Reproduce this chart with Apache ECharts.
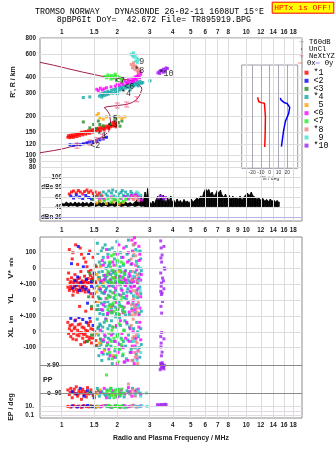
<!DOCTYPE html>
<html><head><meta charset="utf-8">
<script src="https://cdn.jsdelivr.net/npm/echarts@6/dist/echarts.min.js"></script>
<style>html,body{margin:0;padding:0;background:#fff}#c{width:335px;height:451px}</style>
</head><body><div id="c"></div><script>
// Frequency axis (MHz, log) and tick sets
const F_MIN = 0.763, F_MAX = 20.05;
const freqTicks = [1, 1.5, 2, 3, 4, 5, 6, 7, 8, 10, 12, 14, 16, 18];
const freqTicksMid = [1, 1.5, 2, 3, 4, 5, 6, 7, 8, 9, 10, 12, 14, 16, 18];
const heightTicks = [80, 90, 100, 120, 150, 200, 300, 400, 600, 800];
const dbTicks = [20, 40, 60, 80, 100];
const tiltTicks = [-20, -10, 0, 10, 20];

// Echo traces
const traceNames = ['*1', '<2', '<3', '*4', ' 5', '<6', '<7', '*8', ' 9', '*10'];
const traceColors = ['#ff0000', '#0000ff', '#228b22', '#10a8a8', '#ffa500', '#ff00ff', '#22ee22', '#f08080', '#40e0d0', '#a020f0'];

// Virtual height R' (km) per trace: [f MHz, km]
const heightPts = [
 [[1.08,137],[1.09,141],[1.11,136],[1.12,142],[1.13,138],[1.15,143],[1.16,137],[1.18,140],[1.19,145],[1.21,139],[1.22,144],[1.24,147],[1.25,141],[1.27,146],[1.28,150],[1.30,143],[1.31,148],[1.33,151],[1.35,145],[1.36,152],[1.38,148],[1.40,154],[1.42,147],[1.44,153],[1.46,156],[1.48,150],[1.50,157],[1.52,153],[1.54,159],[1.56,155],[1.58,161],[1.60,157],[1.63,163],[1.66,159],[1.69,165],[1.72,161],[1.75,167],[1.78,163],[1.81,169],[1.84,165],[1.87,171],[1.90,167],[1.93,174],[1.96,170],[1.99,177],[1.62,152],[1.70,156],[1.80,160],[1.91,179],[1.97,165]],
 [[1.11,120],[1.16,119],[1.21,121],[1.26,120],[1.31,122],[1.37,124],[1.42,126],[1.48,125],[1.55,128],[1.61,131],[1.68,133],[1.75,137]],
 [[1.31,180],[1.42,162],[1.49,172],[1.53,160],[1.58,183],[1.61,172],[1.68,168],[1.83,172],[1.95,192],[2.03,178],[2.07,167],[2.12,183]],
 [[1.60,285],[1.63,296],[1.65,280],[1.68,300],[1.70,288],[1.72,306],[1.75,292],[1.78,311],[1.80,296],[1.83,304],[1.86,316],[1.89,300],[1.92,321],[1.95,308],[1.98,326],[2.01,312],[2.04,331],[2.07,318],[2.10,336],[2.14,322],[2.18,341],[2.22,328],[2.26,346],[2.30,333],[2.34,351],[2.38,338],[2.42,356],[2.46,342],[2.50,361],[2.54,348],[2.58,366],[2.62,352],[2.66,371],[2.70,358],[2.75,363],[1.31,278],[1.42,281],[3.01,374],[2.35,318],[2.00,298],[1.66,291],[1.77,300],[2.12,330],[2.44,349],[2.60,342]],
 [[1.55,202],[1.58,209],[1.61,194],[1.68,189],[1.75,197],[2.03,197],[2.12,192],[2.20,197]],
 [[1.55,322],[1.58,314],[1.62,328],[1.66,318],[1.70,325],[1.75,331],[1.85,336],[1.95,341],[2.00,352],[2.05,346],[2.10,361],[2.15,351],[2.20,371],[2.25,359],[2.30,381],[2.35,366],[2.40,391],[2.45,373],[2.50,401],[2.55,381],[2.60,411],[2.64,396],[2.68,421],[2.62,431],[2.56,406],[2.48,386],[2.42,369],[2.28,363],[2.66,441],[2.52,392]],
 [[1.72,405],[1.75,395],[1.78,415],[1.82,401],[1.86,411],[1.90,393],[1.95,421],[2.00,405],[2.05,398],[2.10,386],[1.85,386],[1.98,376],[2.12,371],[1.93,408]],
 [[2.38,500],[2.42,471],[2.46,490],[2.50,456],[2.55,476],[2.58,446],[2.62,461],[2.45,516],[2.60,431],[2.52,485]],
 [[2.38,601],[2.42,586],[2.46,571],[2.50,591],[2.55,561],[2.60,546],[2.45,616],[2.52,531],[2.57,520]],
 [[3.32,431],[3.38,441],[3.44,451],[3.50,446],[3.56,461],[3.62,456],[3.68,471],[3.74,466],[3.40,426],[3.55,436],[3.62,440]]
];

// Echo amplitude (dB) per trace
const dbPts = [
 [[1.10,66],[1.13,70],[1.16,72],[1.20,68],[1.23,73],[1.26,70],[1.30,66],[1.33,71],[1.37,74],[1.40,69],[1.44,72],[1.48,67],[1.52,70],[1.56,64],[1.60,68],[1.65,62]],
 [[1.12,62],[1.16,58],[1.20,64],[1.25,60],[1.30,57],[1.35,63],[1.40,59],[1.45,56],[1.50,61]],
 [[1.48,55],[1.55,60],[1.60,52]],
 [[1.62,64],[1.68,70],[1.74,66],[1.80,72],[1.86,68],[1.92,62],[1.98,71],[2.04,66],[2.10,69],[2.16,63],[2.22,70],[2.28,65],[2.34,60],[2.40,67],[2.46,62],[2.52,66],[2.60,58],[2.68,63],[1.65,58],[1.77,62],[1.89,74],[2.01,60],[2.13,73],[2.25,61],[2.37,71]],
 [[1.55,48],[1.62,52],[1.75,47],[1.90,50],[2.05,46],[2.15,49]],
 [[1.60,58],[1.70,55],[1.85,60],[1.95,54],[2.10,57],[2.20,61],[2.30,56],[2.38,63],[2.45,59],[2.55,66],[2.62,60],[2.70,54],[2.50,64],[2.58,62]],
 [[1.70,52],[1.78,56],[1.85,50],[1.92,55],[2.00,53],[2.08,58],[2.15,51],[2.22,55],[1.88,58],[2.04,50]],
 [[2.40,58],[2.45,55],[2.50,61],[2.55,57],[2.60,53]],
 [[2.55,70],[2.60,68],[2.65,64]],
 [[3.35,58],[3.42,62],[3.50,60],[3.58,56],[3.65,59]]
];

// Doppler velocity V* (m/s)
const velPts = [
 [[1.10,120],[1.14,60],[1.18,-40],[1.12,-85],[1.08,-70],[1.16,-92],[1.20,-78],[1.22,25],[1.25,-60],[1.28,90],[1.30,-88],[1.33,-50],[1.35,40],[1.38,-95],[1.40,-20],[1.42,110],[1.45,-70],[1.48,70],[1.50,-40],[1.52,-85],[1.54,10],[1.26,130],[1.36,-75],[1.44,-10],[1.24,-95],[1.32,65],[1.47,-60],[1.19,150],
  [1.09,-30],[1.11,-95],[1.13,-60],[1.15,100],[1.17,-75],[1.21,-88],[1.23,-65],[1.27,-20],[1.29,-80],[1.31,-96],[1.34,-85],[1.37,10],[1.39,-65],[1.41,-90],[1.43,-45],[1.46,-90],[1.49,-75],[1.53,-95]],
 [[1.13,30],[1.18,-80],[1.22,-55],[1.27,-90],[1.31,10],[1.36,-70],[1.40,95],[1.45,-85],[1.50,-30],[1.23,140]],
 [[1.42,-30],[1.48,-80],[1.52,20],[1.60,-60],[1.65,-95]],
 [[1.56,160],[1.58,-60],[1.60,40],[1.62,-90],[1.64,110],[1.66,-20],[1.68,70],[1.70,-80],[1.72,150],[1.74,0],[1.76,-50],[1.78,90],[1.80,-95],[1.82,30],[1.85,-70],[1.88,130],[1.90,-30],[1.93,60],[1.96,-85],[1.99,170],[2.02,-10],[2.05,-60],[2.08,100],[2.12,-90],[2.16,20],[2.20,-40],[2.24,140],[2.28,-75],[2.32,50],[2.36,-20],[2.40,-95],[2.44,80],[2.48,-55],[2.52,120],[2.56,-80],[2.60,10],[2.64,-35],[2.68,60],[2.30,180],[2.10,-25],
  [1.57,95],[1.59,-25],[1.61,-75],[1.63,20],[1.65,-95],[1.67,130],[1.69,-45],[1.71,35],[1.73,-65],[1.77,-85],[1.79,15],[1.81,120],[1.84,-40],[1.87,-15],[1.91,-60],[1.94,100],[1.97,-45],[2.00,40],[2.04,-85],[2.07,10],[2.11,70],[2.14,-55],[2.18,-85],[2.22,-15],[2.26,90],[2.30,-55],[2.34,-90],[2.38,25],[2.42,-70],[2.46,150],[2.50,-25],[2.54,45],[2.58,-95],[2.62,-60],[2.66,110],[2.70,-15]],
 [[1.55,-40],[1.58,-70],[1.62,10],[1.68,-90],[1.90,-60],[2.05,-20]],
 [[1.66,50],[1.70,-70],[1.75,120],[1.80,-30],[1.86,-90],[1.92,20],[1.98,-60],[2.04,150],[2.10,-80],[2.15,70],[2.20,-20],[2.25,-95],[2.30,100],[2.35,-50],[2.40,30],[2.45,-85],[2.50,160],[2.55,-10],[2.60,-70],[2.65,90],[2.70,-40],[2.48,195],[2.62,140],[1.95,-95],[2.18,-65],
  [1.64,-80],[1.68,20],[1.72,-45],[1.78,70],[1.83,-75],[1.89,40],[1.94,-20],[2.00,90],[2.06,-50],[2.12,-95],[2.17,130],[2.22,-75],[2.27,40],[2.32,-35],[2.37,-80],[2.42,110],[2.47,-60],[2.52,20],[2.57,-90],[2.63,50],[2.68,-75],[2.40,180]],
 [[1.76,-40],[1.80,-80],[1.84,10],[1.88,-60],[1.92,-95],[1.96,-30],[2.00,50],[2.04,-75],[2.08,-10],[2.12,-90],[2.16,30],[1.86,80],
  [1.78,-20],[1.82,40],[1.86,-90],[1.90,-10],[1.94,-70],[1.98,20],[2.02,-50],[2.06,-90],[2.10,40],[2.14,-60],[2.18,-30],[1.92,90]],
 [[2.38,60],[2.42,-20],[2.46,100],[2.50,-60],[2.54,20],[2.58,-85],[2.44,150],[2.56,-40],[2.40,-75],[2.52,80]],
 [[2.45,-50],[2.55,30],[2.62,-80],[2.68,0],[2.58,110]],
 [[3.44,175],[3.58,140],[3.46,130],[3.50,85],[3.45,66],[3.48,40],[3.60,2],[3.44,-30],[3.52,-62],[3.47,-94],[3.56,-80],[3.62,-5]]
];

// Echolocation YL (km)
const ylPts = [
 [[1.08,80],[1.10,60],[1.12,88],[1.14,70],[1.16,55],[1.18,82],[1.20,66],[1.22,48],[1.24,90],[1.26,72],[1.28,58],[1.30,85],[1.32,64],[1.34,50],[1.36,78],[1.40,62],[1.44,40],[1.48,20],[1.52,-10],[1.25,-40],[1.35,-70],[1.45,-55],[1.15,30],[1.50,75],[1.11,72],[1.17,90],[1.23,62],[1.29,76],[1.33,92]],
 [[1.15,75],[1.20,92],[1.25,60],[1.30,80],[1.35,68],[1.40,50],[1.45,85],[1.50,40],[1.38,-20]],
 [[1.40,20],[1.45,-40],[1.55,-60],[1.60,10]],
 [[1.56,90],[1.58,20],[1.60,-60],[1.62,60],[1.64,-20],[1.66,95],[1.68,-90],[1.70,40],[1.72,-40],[1.75,75],[1.78,-10],[1.80,-75],[1.83,55],[1.86,-50],[1.90,85],[1.94,0],[1.98,-85],[2.02,35],[2.06,-30],[2.10,70],[2.14,-65],[2.18,15],[2.22,-95],[2.26,50],[2.30,-15],[2.35,90],[2.40,-55],[2.45,25],[2.50,-80],[2.55,60],[2.60,-30],[2.65,80],[2.70,-70],[2.20,95],[1.95,-45],
  [1.57,-35],[1.59,70],[1.61,-85],[1.63,5],[1.65,45],[1.67,-65],[1.69,85],[1.71,-15],[1.73,60],[1.77,-95],[1.79,30],[1.82,-30],[1.85,90],[1.88,-80],[1.92,15],[1.96,60],[2.00,-60],[2.04,-10],[2.08,95],[2.12,-40],[2.16,40],[2.20,-75],[2.24,5],[2.28,70],[2.33,-90],[2.38,45],[2.43,-25],[2.48,90],[2.53,-50],[2.58,15],[2.63,-85],[2.68,40]],
 [[1.55,50],[1.58,-10],[1.60,80],[1.85,-40]],
 [[1.62,70],[1.68,-30],[1.74,10],[1.80,88],[1.86,-70],[1.92,45],[1.98,-15],[2.05,-90],[2.12,60],[2.18,-45],[2.25,25],[2.32,-75],[2.38,80],[2.44,-5],[2.50,-60],[2.56,40],[2.62,-95],[2.68,20],[2.00,95],
  [1.65,-60],[1.71,50],[1.77,-85],[1.83,20],[1.89,-35],[1.95,75],[2.02,-55],[2.08,30],[2.15,-80],[2.22,90],[2.28,-20],[2.35,55],[2.41,-65],[2.47,85],[2.53,-30],[2.59,70],[2.65,-50]],
 [[1.76,10],[1.80,-40],[1.85,-80],[1.90,-20],[1.95,30],[2.00,-60],[2.05,-95],[2.10,0],[2.15,-50],[1.88,45],
  [1.78,-60],[1.82,20],[1.87,-30],[1.92,-70],[1.97,0],[2.02,-85],[2.07,-40],[2.12,20],[2.17,-75]],
 [[2.38,-30],[2.42,-70],[2.46,10],[2.50,-90],[2.54,-50],[2.58,30],[2.44,60],[2.40,-95],[2.48,-40],[2.52,50],[2.56,-75],[2.60,-15]],
 [[2.50,20],[2.60,-40],[2.66,60]],
 [[3.46,86],[3.58,70],[3.44,54],[3.50,44],[3.47,34],[3.52,-9],[3.45,-40],[3.48,-82]]
];

// Echolocation XL (km)
const xlPts = [
 [[1.08,60],[1.10,20],[1.12,-30],[1.14,45],[1.16,-10],[1.18,30],[1.20,-50],[1.22,10],[1.24,-25],[1.26,50],[1.28,-5],[1.30,-40],[1.32,25],[1.34,-15],[1.36,-60],[1.38,5],[1.40,40],[1.42,-35],[1.45,-70],[1.48,15],[1.50,-20],[1.53,-55],[1.19,75],[1.27,-80],[1.43,65],
  [1.09,-10],[1.11,40],[1.13,5],[1.15,-45],[1.17,20],[1.21,-20],[1.23,45],[1.25,-5],[1.29,30],[1.31,-15],[1.33,-65],[1.35,10],[1.37,-30],[1.39,55],[1.41,-50],[1.44,20],[1.47,-40],[1.51,0],[1.55,-85]],
 [[1.12,85],[1.18,70],[1.24,90],[1.30,78],[1.36,60],[1.42,88],[1.48,40]],
 [[1.38,-60],[1.45,-20],[1.52,-90],[1.58,30],[1.62,-45]],
 [[1.56,80],[1.58,-20],[1.60,-100],[1.62,40],[1.64,-60],[1.66,0],[1.68,-140],[1.70,60],[1.72,-30],[1.75,-90],[1.78,20],[1.80,-170],[1.83,-50],[1.86,70],[1.90,-10],[1.94,-120],[1.98,30],[2.02,-70],[2.06,90],[2.10,-40],[2.14,-150],[2.18,10],[2.22,-90],[2.26,50],[2.30,-20],[2.35,-130],[2.40,-60],[2.45,20],[2.50,-100],[2.55,60],[2.60,-30],[2.65,-160],[2.70,-80],[2.20,-190],[1.96,95],
  [1.57,20],[1.59,-150],[1.61,50],[1.63,-80],[1.65,-180],[1.67,30],[1.69,-60],[1.71,-110],[1.73,80],[1.77,-140],[1.79,-40],[1.82,40],[1.85,-90],[1.88,-200],[1.92,-60],[1.96,-160],[2.00,-20],[2.04,-110],[2.08,40],[2.12,-90],[2.16,-60],[2.20,70],[2.24,-170],[2.28,-50],[2.33,30],[2.38,-110],[2.43,-180],[2.48,-40],[2.53,-140],[2.58,0],[2.63,-100],[2.68,20]],
 [[1.55,-10],[1.60,-70],[1.70,-120],[1.90,-150]],
 [[1.62,10],[1.68,-50],[1.74,80],[1.80,-110],[1.86,-20],[1.92,-160],[1.98,40],[2.05,-80],[2.12,-10],[2.18,-190],[2.25,60],[2.32,-60],[2.38,-130],[2.44,0],[2.50,-90],[2.56,-170],[2.62,30],[2.68,-50],[2.00,-200],
  [1.65,-130],[1.71,-20],[1.77,-70],[1.83,-150],[1.89,30],[1.95,-60],[2.02,-130],[2.08,70],[2.15,-100],[2.22,-40],[2.28,-180],[2.35,20],[2.41,-90],[2.47,-200],[2.53,-40],[2.59,-120],[2.65,60]],
 [[1.75,70],[1.80,-10],[1.85,-60],[1.90,30],[1.95,-100],[2.00,-30],[2.05,50],[2.10,-80],[2.15,-140],[1.88,-170],[2.02,-190],
  [1.78,-80],[1.82,-130],[1.87,10],[1.92,-40],[1.97,-150],[2.02,-10],[2.07,-110],[2.12,-50],[2.17,10]],
 [[2.38,40],[2.42,-40],[2.46,-100],[2.50,-160],[2.54,-20],[2.58,-200],[2.44,80],[2.56,-70],[2.48,-130],[2.40,-180],[2.46,-30],[2.52,-60],[2.60,-120],[2.55,-150]],
 [[2.45,-60],[2.52,-100],[2.60,-20],[2.68,-130],[2.56,-180]],
 [[3.48,-4],[3.44,-30],[3.58,-44],[3.46,-71],[3.50,-128],[3.47,-151],[3.45,-95]]
];

// Polarization PP (deg)
const ppPts = [
 [[1.08,-70],[1.10,-100],[1.12,-60],[1.14,-120],[1.16,-85],[1.18,-95],[1.20,-50],[1.22,-110],[1.24,-75],[1.26,-90],[1.28,-130],[1.30,-65],[1.32,-100],[1.34,-80],[1.36,-115],[1.38,-55],[1.40,-95],[1.44,-70],[1.48,-105],[1.52,-85],[1.11,-85],[1.17,-65],[1.23,-95],[1.29,-80],[1.35,-95]],
 [[1.14,-80],[1.20,-95],[1.26,-60],[1.32,-110],[1.38,-75],[1.44,-90],[1.50,-120]],
 [[1.42,-85],[1.50,-105],[1.58,-75]],
 [[1.56,-60],[1.60,-110],[1.65,-80],[1.70,-95],[1.76,-70],[1.82,-120],[1.88,-85],[1.95,-100],[2.02,-65],[2.10,-90],[2.18,-115],[2.26,-75],[2.34,-95],[2.42,-60],[2.50,-105],[2.58,-80],[2.66,-90],[1.62,-90],[1.73,-105],[1.85,-60],[2.06,-110],[2.30,-85],[2.54,-70]],
 [[1.55,-95],[1.62,-70],[1.90,-100]],
 [[1.62,-85],[1.70,-60],[1.80,-100],[1.90,-75],[2.00,-115],[2.10,-70],[2.20,-95],[2.30,-55],[2.40,-110],[2.50,-80],[2.60,-65],[2.68,-100],[1.75,-120],[2.05,-90],[2.35,-80]],
 [[1.76,-80],[1.80,-100],[1.84,-60],[1.88,-90],[1.92,-120],[1.96,-70],[2.00,-95],[2.04,-85],[2.08,-105],[2.12,-65],[2.16,-90],[1.82,-75],[1.98,-110],[1.75,26],[1.86,-105],[1.94,-85],[2.02,-70],[2.10,-95]],
 [[2.38,-90],[2.44,-70],[2.50,-110],[2.56,-85],[2.30,-32]],
 [[2.50,-95],[2.60,-75],[2.68,-110],[2.88,-90]],
 [[3.44,100],[3.48,85],[3.52,95],[3.56,75],[3.46,70],[3.60,88],[3.42,60],[3.50,105],[3.54,80],[3.47,92],[3.58,65]]
];

// EP (deg, log)
const epPts = [
 [[1.08,12],[1.12,8],[1.16,18],[1.20,10],[1.24,14],[1.28,7],[1.32,20],[1.36,11],[1.40,9],[1.44,16],[1.48,12],[1.52,8]],
 [[1.14,15],[1.22,9],[1.30,13],[1.38,19],[1.46,10]],
 [[1.44,13],[1.54,9]],
 [[1.56,14],[1.62,9],[1.70,18],[1.78,11],[1.86,7],[1.95,15],[2.05,10],[2.15,20],[2.25,8],[2.35,13],[2.45,17],[2.55,9],[2.65,12]],
 [[1.56,11],[1.66,16]],
 [[1.64,12],[1.74,20],[1.84,9],[1.96,14],[2.08,7],[2.20,16],[2.32,10],[2.44,22],[2.56,11],[2.68,15]],
 [[1.76,10],[1.82,16],[1.88,8],[1.94,13],[2.00,19],[2.06,9],[2.12,14],[2.18,6],[1.79,22],[1.97,11]],
 [[2.38,12],[2.46,18],[2.54,9]],
 [[2.50,14],[2.62,10],[2.72,17],[2.90,12]],
 [[3.30,30],[3.38,26],[3.46,34],[3.54,28],[3.62,38],[3.68,32]]
];

// Trace label anchors [f, km]
const traceLabelAt = [[1.65,140],[1.52,117],[1.89,172],[2.23,298],[1.89,190],[2.32,338],[2.07,374],[2.63,447],[2.63,529],[3.68,422]];

// Electron density profile (plasma frequency vs true height)
const profile = [[0.763,104],[0.9,108],[1.0,111],[1.1,115],[1.257,120],[1.4,126],[1.52,131],[1.616,135.5],[1.72,143],[1.8,152],[1.829,157],[1.84,180],[1.82,205],[1.76,222],[1.70,232],[1.76,236],[1.907,239],[2.1,243],[2.253,246],[2.42,255],[2.553,269],[2.65,290],[2.72,322],[2.70,335],[2.66,342],[2.55,358],[2.446,374],[2.1,388],[1.8,398],[1.616,409],[1.3,437],[1.065,467],[0.9,495],[0.763,520]];
const neXtYZ = [[1.21,118],[1.42,125],[1.55,130],[1.66,138],[2.0,241],[2.25,246],[2.55,270]];

// Noise level T60dB: [f MHz, floor dB, peak dB]
const t60 = [[1.00,43,48],[1.03,42,46],[1.06,43,50],[1.09,41,47],[1.12,43,49],[1.15,42,46],[1.18,43,50],[1.21,41,47],[1.24,42,49],[1.27,43,46],[1.30,41,50],[1.33,42,47],[1.37,43,49],[1.40,41,46],[1.44,42,50],[1.48,43,47],[1.52,41,48],[1.56,42,46],[1.60,43,50],[1.64,41,47],[1.68,42,49],[1.73,43,46],[1.78,41,50],[1.83,42,47],[1.88,43,49],[1.93,41,46],[1.98,42,50],[2.04,43,47],[2.10,41,49],[2.16,42,46],[2.22,43,50],[2.28,41,47],[2.35,42,49],[2.42,43,46],[2.49,41,50],[2.56,42,54],[2.63,43,48],[2.70,41,62],[2.76,42,50],[2.83,40,70],[2.88,41,60],[2.92,40,77],[2.96,41,55],
 [3.00,40,50],[3.06,41,46],[3.12,40,52],[3.18,41,47],[3.25,40,55],[3.31,41,62],[3.37,40,56],[3.43,41,66],[3.49,40,58],[3.55,41,64],[3.61,40,55],[3.68,41,50],[3.75,40,58],[3.82,41,52],[3.90,40,62],[3.97,41,50],[4.05,40,54],[4.13,41,48],[4.22,40,56],[4.31,41,50],[4.40,40,53],[4.50,41,48],[4.60,40,55],[4.70,41,50],[4.80,40,52],[4.92,41,48],[5.04,40,56],[5.16,41,50],[5.28,40,54],[5.40,41,58],[5.52,40,55],[5.65,41,62],[5.78,40,60],[5.90,41,70],[6.02,40,77],[6.14,41,72],[6.27,40,75],[6.40,41,66],[6.54,40,70],[6.68,41,62],[6.82,40,66],[6.96,41,73],[7.10,40,68],[7.25,41,74],[7.40,40,64],[7.55,41,60],[7.72,40,66],[7.90,41,58],[8.08,40,63],[8.26,41,56],[8.45,40,62],[8.65,41,57],[8.85,40,60],[9.05,41,55],[9.26,40,62],[9.48,41,54],[9.70,40,60],[9.92,41,64],[10.15,40,68],[10.4,41,63],[10.65,40,70],[10.9,41,62],[11.15,40,60],[11.4,41,56],[11.7,40,58],[12.0,41,54],[12.3,40,57],[12.6,41,52],[12.9,40,55],[13.2,41,51],[13.5,40,56],[13.8,41,52],[14.1,40,54],[14.4,41,50],[14.7,40,53],[15.0,41,50],[15.1,41,50]];

// Echo tilt (deg) vs height (km)
const tiltX = [[-13.7,282],[-13.2,272],[-12.6,262],[-10,257],[-6,254],[-4.9,251],[-4.9,200],[-5.1,160],[-5.4,130],[-5.7,116]];
const tiltY = [[12.2,280],[12.8,270],[13.4,261],[17,256],[19.9,253],[22.9,236],[21.7,212],[17.9,183],[16,157],[14.9,139],[13.4,117]];

const SANS = 'Liberation Sans';
const MONO = 'Liberation Mono';
const GRID_C = '#dcdcdc';
const FRAME_C = '#8a8a8a';
const tickLabel = {fontFamily: SANS, fontWeight: 'bold', fontSize: 6.3, color: '#222', hideOverlap: false};

const W = 262, L = 40;
const grids = [
  {left: L, top: 38, width: W, height: 137},          // 0 height
  {left: L, top: 175, width: W, height: 46},          // 1 dB
  {left: 241.7, top: 65, width: 56, height: 103.3, show: true, backgroundColor: '#fff', borderColor: '#9a9aa8', borderWidth: 1, z: 5}, // 2 tilt
  {left: L, top: 237, width: W, height: 47},          // 3 V*
  {left: L, top: 284, width: W, height: 32},          // 4 YL
  {left: L, top: 316, width: W, height: 49},          // 5 XL
  {left: L, top: 358, width: W, height: 43},          // 6 PP
  {left: L, top: 401, width: W, height: 17},          // 7 EP
  {left: L, top: 38, width: W, height: 183, show: true, borderColor: FRAME_C, borderWidth: 1, backgroundColor: 'transparent'}, // 8 upper frame
  {left: L, top: 237, width: W, height: 181, show: true, borderColor: FRAME_C, borderWidth: 1, backgroundColor: 'transparent'}  // 9 lower frame
].map(g => Object.assign({outerBoundsMode: 'none', containLabel: false}, g));

function fAxis(gi, extra) {
  return Object.assign({type: 'log', logBase: 10, min: F_MIN, max: F_MAX, gridIndex: gi,
    axisLine: {show: false}, axisTick: {show: false}, splitLine: {show: false}, axisLabel: {show: false}}, extra || {});
}
function vAxis(gi, type, min, max, extra) {
  return Object.assign({type: type, min: min, max: max, gridIndex: gi, logBase: 10,
    axisLine: {show: false}, axisTick: {show: false}, splitLine: {show: false}, axisLabel: {show: false}}, extra || {});
}
const fmtF = v => String(+v.toFixed(2));

const xAxes = [
  fAxis(0, {position: 'top', axisLabel: Object.assign({show: true, customValues: freqTicks, formatter: fmtF, margin: 3}, tickLabel)}),
  fAxis(1, {axisLabel: Object.assign({show: true, customValues: freqTicksMid, formatter: fmtF, margin: 6}, tickLabel)}),
  {type: 'value', min: -32, max: 32, gridIndex: 2, axisLine: {show: false}, axisTick: {show: false}, splitLine: {show: false},
   axisLabel: {show: true, customValues: tiltTicks, margin: 1.5, fontFamily: SANS, fontSize: 5, color: '#333', hideOverlap: false},
   name: 'Tilt / deg', nameLocation: 'middle', nameGap: 6.5, nameTextStyle: {fontFamily: SANS, fontSize: 5, color: '#333'}},
  fAxis(3), fAxis(4), fAxis(5), fAxis(6),
  fAxis(7, {axisLabel: Object.assign({show: true, customValues: freqTicks, formatter: fmtF, margin: 4}, tickLabel),
    name: 'Radio and Plasma Frequency / MHz', nameLocation: 'middle', nameGap: 17,
    nameTextStyle: {fontFamily: SANS, fontWeight: 'bold', fontSize: 6.9, color: '#222'}}),
  fAxis(8), fAxis(9)
];

const yAxes = [
  vAxis(0, 'log', 70, 802, {axisLabel: Object.assign({show: true, customValues: heightTicks, margin: 4}, tickLabel)}),
  vAxis(1, 'value', 12, 104, {axisLabel: Object.assign({show: true, customValues: dbTicks, inside: true, align: 'right', margin: 22,
    formatter: v => v === 80 ? 'dBe 80' : v === 20 ? 'dBn 20' : String(v)}, tickLabel)}),
  vAxis(2, 'log', 79.3, 504),
  vAxis(3, 'value', -100, 200, {axisLabel: Object.assign({show: true, customValues: [100, 0, -100], margin: 4,
    formatter: v => v === -100 ? '+-100' : String(v)}, tickLabel)}),
  vAxis(4, 'value', -100, 100, {axisLabel: Object.assign({show: true, customValues: [0, -100], margin: 4,
    formatter: v => v === -100 ? '+-100' : String(v)}, tickLabel)}),
  vAxis(5, 'value', -209, 100, {axisLabel: Object.assign({show: true, customValues: [0, -100], margin: 4}, tickLabel)}),
  vAxis(6, 'value', -141, 135, {axisLabel: Object.assign({show: true, customValues: [90, -90], inside: true, margin: 7,
    formatter: v => v > 0 ? 'x 90' : 'o -90'}, tickLabel)}),
  vAxis(7, 'log', 0.019, 235, {axisLabel: Object.assign({show: true, customValues: [10, 0.1], margin: 6,
    formatter: v => v > 1 ? '10.' : '0.1'}, tickLabel)}),
  vAxis(8, 'value', 0, 1), vAxis(9, 'value', 0, 1)
];

// Reference lines drawn through each grid's own scales
function refLines(gi, key, values, color, z, anchor) {
  return {type: 'line', xAxisIndex: gi, yAxisIndex: gi, data: [anchor], symbol: 'none', silent: true,
    lineStyle: {opacity: 0}, z: z, animation: false, legendHoverLink: false,
    markLine: {silent: true, symbol: ['none', 'none'], label: {show: false}, animation: false,
      emphasis: {disabled: true}, lineStyle: {color: color, width: 1, type: 'solid'},
      data: values.map(v => ({[key]: v}))}};
}

const series = [
  refLines(8, 'xAxis', freqTicks, GRID_C, 1, [1, 0.5]),
  refLines(0, 'yAxis', heightTicks, GRID_C, 1, [1, 100]),
  refLines(1, 'yAxis', [40, 60, 80, 100], GRID_C, 1, [1, 50]),
  refLines(1, 'yAxis', [20], '#b4b4e6', 1, [1, 50]),
  refLines(2, 'xAxis', tiltTicks, '#a8a8b8', 6, [0, 150]),
  refLines(9, 'xAxis', freqTicks, GRID_C, 1, [1, 0.5]),
  refLines(3, 'yAxis', [100, 0, -100], GRID_C, 1, [1, 0]),
  refLines(4, 'yAxis', [0, -100], GRID_C, 1, [1, 0]),
  refLines(5, 'yAxis', [0, -100], GRID_C, 1, [1, 0]),
  refLines(7, 'yAxis', [10, 1, 0.1], '#e2dae2', 1, [1, 1]),
  refLines(6, 'yAxis', [90, -90], FRAME_C, 2, [1, 0])
];

const panels = [[heightPts, 0], [dbPts, 1], [velPts, 3], [ylPts, 4], [xlPts, 5], [ppPts, 6], [epPts, 7]];
traceNames.forEach((name, i) => {
  panels.forEach(([arr, gi]) => {
    series.push({type: 'scatter', name: name, xAxisIndex: gi, yAxisIndex: gi, data: arr[i],
      symbol: 'rect', symbolSize: 3, itemStyle: {color: traceColors[i]}, z: 4, silent: true, animation: false});
  });
});

const plusIcon = 'path://M0,0H5V1H3V5H5V6H0V5H2V1H0Z';
series.push(
  {type: 'line', name: 'profile', xAxisIndex: 0, yAxisIndex: 0, data: profile, symbol: 'none',
   lineStyle: {color: '#a0204a', width: 1}, z: 3, silent: true, animation: false},
  {type: 'scatter', name: 'NeXtYZ', xAxisIndex: 0, yAxisIndex: 0, data: neXtYZ, symbol: plusIcon, symbolSize: [5, 6],
   itemStyle: {color: '#e8608a'}, z: 5, silent: true, animation: false},
  {type: 'scatter', name: 'UnCl', xAxisIndex: 0, yAxisIndex: 0, data: [], symbol: 'rect', symbolSize: 1,
   itemStyle: {color: '#000'}, silent: true, animation: false},
  // noise band: filled between floor and peak level of consecutive samples
  {type: 'custom', name: 'T60dB', xAxisIndex: 1, yAxisIndex: 1, data: t60, encode: {x: 0, y: [1, 2]},
   itemStyle: {color: '#000'}, z: 3, silent: true, animation: false, clip: true,
   renderItem: (params, api) => {
     const i = params.dataIndex;
     if (i >= t60.length - 1) return null;
     const f0 = api.value(0), lo0 = api.value(1), hi0 = api.value(2);
     const nx = t60[i + 1];
     const pts = [api.coord([f0, lo0]), api.coord([f0, hi0]), api.coord([nx[0], nx[2]]), api.coord([nx[0], nx[1]])];
     return {type: 'polygon', shape: {points: pts}, style: {fill: '#000', stroke: '#000', lineWidth: 0.6}};
   }},
  {type: 'line', name: 'Θx', xAxisIndex: 2, yAxisIndex: 2, data: tiltX, symbol: 'none',
   lineStyle: {color: '#ff0000', width: 1.5}, itemStyle: {color: '#ff0000'}, z: 7, silent: true, animation: false},
  {type: 'line', name: 'Θy', xAxisIndex: 2, yAxisIndex: 2, data: tiltY, symbol: 'none',
   lineStyle: {color: '#0000ff', width: 1.5}, itemStyle: {color: '#0000ff'}, z: 7, silent: true, animation: false},
  {type: 'scatter', name: 'labels', xAxisIndex: 0, yAxisIndex: 0, symbolSize: 0, z: 6, silent: true, animation: false,
   data: traceLabelAt.map((p, i) => ({value: p, name: traceNames[i]})),
   label: {show: true, position: 'inside', formatter: p => p.name, fontFamily: MONO, fontSize: 8.3, color: '#000'}}
);

const option = {
  animation: false,
  backgroundColor: '#fff',
  grid: grids, xAxis: xAxes, yAxis: yAxes, series: series,
  legend: [
    {orient: 'vertical', left: 299, top: 38.4, padding: 0, itemGap: 0, itemWidth: 5, itemHeight: 5, selectedMode: false,
     textStyle: {fontFamily: MONO, fontSize: 7.2, color: '#000', lineHeight: 6.65},
     data: [
       {name: 'T60dB', icon: 'path://M0,0M10,10M0,4.5H10V5.5H0Z', itemStyle: {color: '#999'}},
       {name: 'UnCl', icon: 'path://M0,0M10,10M4,4H6V6H4Z', itemStyle: {color: '#000'}},
       {name: 'NeXtYZ', icon: 'path://M0,0M10,10M4.3,1H5.7V4.3H9V5.7H5.7V9H4.3V5.7H1V4.3H4.3Z', itemStyle: {color: '#e8608a'}}
     ]},
    {orient: 'horizontal', left: 298, top: 59.5, padding: 0, itemGap: 0, itemWidth: 4, itemHeight: 6, selectedMode: false,
     textStyle: {fontFamily: MONO, fontSize: 7.2, color: '#000'},
     data: [
       {name: 'Θx', icon: 'path://M0,0M10,10M0,4.4H10V5.6H0Z'},
       {name: 'Θy', icon: 'path://M0,0M10,10M0,4.4H10V5.6H0Z'}
     ]},
    {orient: 'vertical', left: 304.5, top: 68.65, padding: 0, itemGap: 0, itemWidth: 4, itemHeight: 4, selectedMode: false,
     textStyle: {fontFamily: MONO, fontSize: 8.3, color: '#000', lineHeight: 8.1}, icon: 'rect',
     data: traceNames.map(n => ({name: n}))}
  ],
  graphic: [
    {type: 'text', left: 35, top: 8, style: {text: 'TROMSO NORWAY   DYNASONDE 26-02-11 1608UT 15°E', font: '8.3px ' + MONO, fill: '#000'}},
    {type: 'text', left: 56.7, top: 15.7, style: {text: '8pBP6It DoY=  42.672 File= TR895919.BPG', font: '8.3px ' + MONO, fill: '#000'}},
    {type: 'group', left: 271.7, top: 1.7, children: [
      {type: 'rect', shape: {x: 0, y: 0, width: 61.6, height: 11}, style: {fill: '#ffff00', stroke: '#ff0000', lineWidth: 1}},
      {type: 'text', x: 30.8, y: 5.6, style: {text: 'HPTx is OFF!', font: '8px ' + MONO, fill: '#ff0000', textAlign: 'center', textVerticalAlign: 'middle'}}
    ]},
    {type: 'text', x: 13, y: 82, rotation: Math.PI / 2, style: {text: "R', R / km", font: 'bold 7px ' + SANS, fill: '#222', textAlign: 'center', textVerticalAlign: 'middle'}},
    {type: 'text', x: 11, y: 268, rotation: Math.PI / 2, style: {text: '{a|V*} {b|m/s}', textAlign: 'center', textVerticalAlign: 'middle',
      rich: {a: {font: 'bold 8px ' + SANS, fill: '#222'}, b: {font: 'bold 5.5px ' + SANS, fill: '#222'}}}},
    {type: 'text', x: 11, y: 299, rotation: Math.PI / 2, style: {text: 'YL', font: 'bold 8px ' + SANS, fill: '#222', textAlign: 'center', textVerticalAlign: 'middle'}},
    {type: 'text', x: 11, y: 319.5, rotation: Math.PI / 2, style: {text: 'km', font: 'bold 5.5px ' + SANS, fill: '#222', textAlign: 'center', textVerticalAlign: 'middle'}},
    {type: 'text', x: 11, y: 332.5, rotation: Math.PI / 2, style: {text: 'XL', font: 'bold 8px ' + SANS, fill: '#222', textAlign: 'center', textVerticalAlign: 'middle'}},
    {type: 'text', x: 43, y: 380, style: {text: 'PP', font: 'bold 7px ' + SANS, fill: '#222', textVerticalAlign: 'middle'}},
    {type: 'text', x: 11, y: 407, rotation: Math.PI / 2, style: {text: 'EP / deg', font: 'bold 7px ' + SANS, fill: '#222', textAlign: 'center', textVerticalAlign: 'middle'}}
  ]
};

const chart = echarts.init(document.getElementById('c'), null, {renderer: 'canvas', width: 335, height: 451});
chart.setOption(option);
</script></body></html>
